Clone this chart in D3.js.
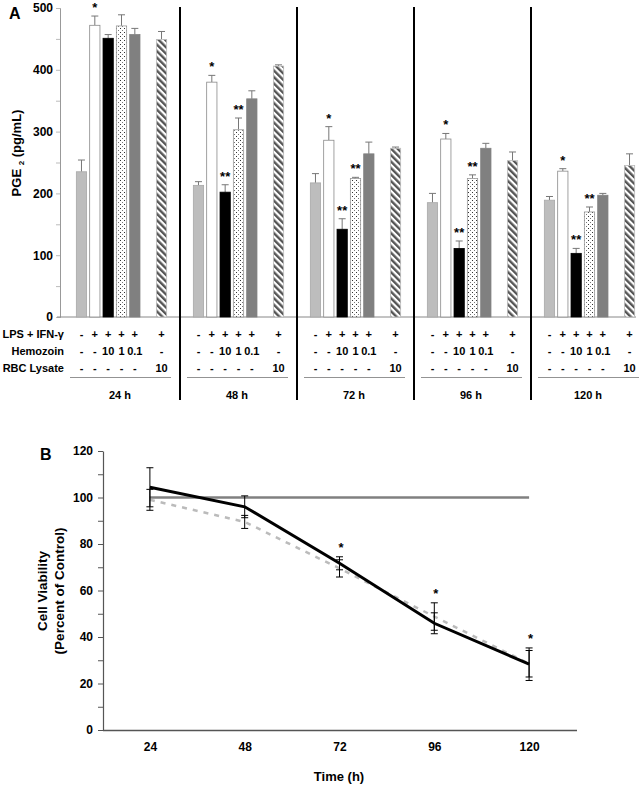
<!DOCTYPE html>
<html><head><meta charset="utf-8">
<script src="https://cdn.jsdelivr.net/npm/d3@7"></script>
<style>body{margin:0;background:#fff}svg{display:block}text{font-family:"Liberation Sans",Arial,sans-serif;font-weight:bold}</style>
</head><body><svg id="c" width="642" height="786"></svg>
<script>
// ---------- Panel A data ----------
const times = ["24 h","48 h","72 h","96 h","120 h"];
const ctrlVals = [235,213,217,185,189];  const ctrlErr = [19,6,15,15,6];
const lpsVals  = [472,380,286,288,236];  const lpsErr  = [15,11,22,9,4];
const hz10Vals = [451,202,142,111,103];  const hz10Err = [6,12,17,12,8];
const hz1Vals  = [471,303,224,224,170];  const hz1Err  = [18,19,2,6,8];
const hz01Vals = [457,353,264,273,197];  const hz01Err = [10,13,19,8,3];
const rbcVals  = [449,406,273,253,245];  const rbcErr  = [13,2,2,14,19];
const sigLps  = ["*","*","*","*","*"];
const sigHz10 = ["","**","**","**","**"];
const sigHz1  = ["","**","**","**","**"];
const sigNone = ["","","","","",""];
const lpsRow  = ["-","+","+","+","+","+"];
const hzRow   = ["-","-","10","1","0.1","-"];
const rbcRow  = ["-","-","-","-","-","10"];
const rowLabels = ["LPS + IFN-\u03b3","Hemozoin","RBC Lysate"];
const yTicksA = [0,50,100,150,200,250,300,350,400,450,500];

// ---------- Panel B data ----------
const timesB = [24,48,72,96,120];
const controlB = [100,100,100,100,100];
const hemoB = [104.4,96,71.7,45.9,28.3];   const hemoBErr = [8.4,4.7,2.8,4.5,7];
const rbcB  = [99,89.5,69.5,48.8,28.5];    const rbcBErr  = [4.5,2.8,3.7,5.9,5.7];
const sigB  = ["","","*","*","*"];
const yTicksB = [0,10,20,30,40,50,60,70,80,90,100,110,120];

const svg = d3.select("#c");
const defs = svg.append("defs");
// dotted pattern
const pd = defs.append("pattern").attr("id","dots").attr("patternUnits","userSpaceOnUse").attr("width",4).attr("height",4);
pd.append("rect").attr("width",4).attr("height",4).attr("fill","#fff");
pd.append("rect").attr("x",0).attr("y",0).attr("width",1).attr("height",1).attr("fill","#333");
pd.append("rect").attr("x",2).attr("y",2).attr("width",1).attr("height",1).attr("fill","#777");
// hatch pattern
const ph = defs.append("pattern").attr("id","hatch").attr("patternUnits","userSpaceOnUse").attr("width",4.6).attr("height",4.6).attr("patternTransform","rotate(-45)");
ph.append("rect").attr("width",4.6).attr("height",4.6).attr("fill","#fff");
ph.append("line").attr("x1",1.2).attr("x2",1.2).attr("y1",0).attr("y2",4.6).attr("stroke","#555").attr("stroke-width",2.4);

// ---------- Panel A ----------
const yA = d3.scaleLinear().domain([0,500]).range([317,8]);
const xG = d3.scaleBand().domain(times).range([63,648]);
const xIn = d3.scaleBand().domain(d3.range(9)).range([0,xG.bandwidth()]).paddingInner(0.23);
const series = [
  {v:ctrlVals,e:ctrlErr,slot:1,fill:"#bdbdbd",stroke:"#a8a8a8",sig:sigNone},
  {v:lpsVals,e:lpsErr,slot:2,fill:"#fff",stroke:"#8a8a8a",sig:sigLps},
  {v:hz10Vals,e:hz10Err,slot:3,fill:"#000",stroke:"#000",sig:sigHz10},
  {v:hz1Vals,e:hz1Err,slot:4,fill:"url(#dots)",stroke:"#999",sig:sigHz1},
  {v:hz01Vals,e:hz01Err,slot:5,fill:"#808080",stroke:"#808080",sig:sigNone},
  {v:rbcVals,e:rbcErr,slot:7,fill:"url(#hatch)",stroke:"#bbb",sig:sigNone}
];
const gA = svg.append("g");
const axA = gA.append("g").attr("transform","translate(60,0)")
  .call(d3.axisLeft(yA).tickValues(yTicksA).tickSize(4).tickPadding(3).tickFormat(d=>d%100===0?d:""));
axA.select(".domain").attr("stroke","#999");
axA.selectAll(".tick line").attr("stroke","#bbb");
axA.selectAll(".tick text").attr("font-size",12).attr("fill","#000").style("font-family","'Liberation Sans',Arial,sans-serif").style("font-weight","bold");
// baseline
gA.append("line").attr("x1",57).attr("x2",636).attr("y1",yA(0)).attr("y2",yA(0)).attr("stroke","#888").attr("stroke-width",1);

series.forEach(s=>{
  times.forEach((t,i)=>{
    const x0 = xG(t)+xIn(s.slot), w = xIn.bandwidth(), cx = x0+w/2;
    const top = yA(s.v[i]), cap = yA(s.v[i]+s.e[i]);
    gA.append("line").attr("x1",cx).attr("x2",cx).attr("y1",top).attr("y2",cap).attr("stroke","#777").attr("stroke-width",1);
    gA.append("line").attr("x1",cx-3.5).attr("x2",cx+3.5).attr("y1",cap).attr("y2",cap).attr("stroke","#777").attr("stroke-width",1);
    gA.append("rect").attr("x",x0).attr("y",top).attr("width",w).attr("height",yA(0)-top)
      .attr("fill",s.fill).attr("stroke",s.stroke).attr("stroke-width",0.8);
    if(s.sig[i]) gA.append("text").attr("x",cx).attr("y",cap-4).attr("text-anchor","middle").attr("font-size",13).text(s.sig[i]);
  });
});
// separators
times.slice(1).forEach(t=>{
  gA.append("line").attr("x1",xG(t)).attr("x2",xG(t)).attr("y1",7).attr("y2",400).attr("stroke","#000").attr("stroke-width",2);
});
// table
const rows = [lpsRow,hzRow,rbcRow];
const rowY = [338,355,372];
rowLabels.forEach((l,r)=>{
  gA.append("text").attr("x",64).attr("y",rowY[r]).attr("text-anchor","end").attr("font-size",11).text(l);
});
times.forEach(t=>{
  rows.forEach((row,r)=>{
    row.forEach((c,k)=>{
      const cx = xG(t)+xIn(series[k].slot)+xIn.bandwidth()/2;
      gA.append("text").attr("x",cx).attr("y",rowY[r]).attr("text-anchor","middle").attr("font-size",11).text(c);
    });
  });
  gA.append("line").attr("x1",xG(t)+7).attr("x2",xG(t)+108).attr("y1",377.5).attr("y2",377.5).attr("stroke","#777").attr("stroke-width",0.8);
  gA.append("text").attr("x",xG(t)+57).attr("y",399).attr("text-anchor","middle").attr("font-size",11).text(t);
});
// y label A
const ylA = gA.append("text").attr("transform","translate(21,153) rotate(-90)").attr("text-anchor","middle").attr("font-size",13);
ylA.append("tspan").text("PGE ");
ylA.append("tspan").attr("font-size",8).attr("dy",3).text("2");
ylA.append("tspan").attr("dy",-3).text(" (pg/mL)");
svg.append("text").attr("x",9).attr("y",19).attr("font-size",16).text("A");

// ---------- Panel B ----------
const xB = d3.scaleLinear().domain([12,132]).range([102.5,576.5]);
const yB = d3.scaleLinear().domain([0,120]).range([730,451]);
const gB = svg.append("g");
const axBy = gB.append("g").attr("transform","translate(103,0)")
  .call(d3.axisLeft(yB).tickValues(yTicksB).tickSize(5).tickPadding(5).tickSizeOuter(0).tickFormat(d=>d%20===0?d:""));
axBy.select(".domain").attr("stroke","#555").attr("stroke-width",1.2);
axBy.selectAll(".tick line").attr("stroke","#555");
axBy.selectAll(".tick text").attr("font-size",12).attr("fill","#000").style("font-family","'Liberation Sans',Arial,sans-serif").style("font-weight","bold");
const axBx = gB.append("g").attr("transform","translate(0,730)")
  .call(d3.axisBottom(xB).tickValues(timesB).tickSize(0).tickPadding(12).tickSizeOuter(0));
axBx.select(".domain").attr("stroke","#555").attr("stroke-width",1.5);
axBx.selectAll(".tick text").attr("font-size",12).attr("fill","#000").style("font-family","'Liberation Sans',Arial,sans-serif").style("font-weight","bold");

const line = d3.line().x((d,i)=>xB(timesB[i])).y(d=>yB(d));
gB.append("path").datum(controlB).attr("d",line).attr("fill","none").attr("stroke","#808080").attr("stroke-width",2.5);
gB.append("path").datum(rbcB).attr("d",line).attr("fill","none").attr("stroke","#bbb").attr("stroke-width",2.5).attr("stroke-dasharray","5,6");
gB.append("path").datum(hemoB).attr("d",line).attr("fill","none").attr("stroke","#000").attr("stroke-width",3);
function errB(vals,errs){
  vals.forEach((v,i)=>{
    const cx = xB(timesB[i]);
    const y1 = yB(v+errs[i]), y2 = yB(v-errs[i]);
    gB.append("line").attr("x1",cx).attr("x2",cx).attr("y1",y1).attr("y2",y2).attr("stroke","#000").attr("stroke-width",1);
    [y1,y2].forEach(y=>gB.append("line").attr("x1",cx-3.5).attr("x2",cx+3.5).attr("y1",y).attr("y2",y).attr("stroke","#000").attr("stroke-width",1));
  });
}
errB(rbcB,rbcBErr);
errB(hemoB,hemoBErr);
sigB.forEach((s,i)=>{
  if(!s) return;
  const top = Math.min(yB(hemoB[i]+hemoBErr[i]), yB(rbcB[i]+rbcBErr[i]));
  gB.append("text").attr("x",xB(timesB[i])+1.5).attr("y",top-5).attr("text-anchor","middle").attr("font-size",13).text(s);
});
const ylB = gB.append("text").attr("transform","translate(47,591) rotate(-90)").attr("text-anchor","middle").attr("font-size",13.5);
ylB.append("tspan").attr("x",0).attr("dy",0).text("Cell Viability");
ylB.append("tspan").attr("x",0).attr("dy",17).text("(Percent of Control)");
gB.append("text").attr("x",339).attr("y",781).attr("text-anchor","middle").attr("font-size",13).text("Time (h)");
svg.append("text").attr("x",40).attr("y",459.5).attr("font-size",16).text("B");
</script></body></html>
